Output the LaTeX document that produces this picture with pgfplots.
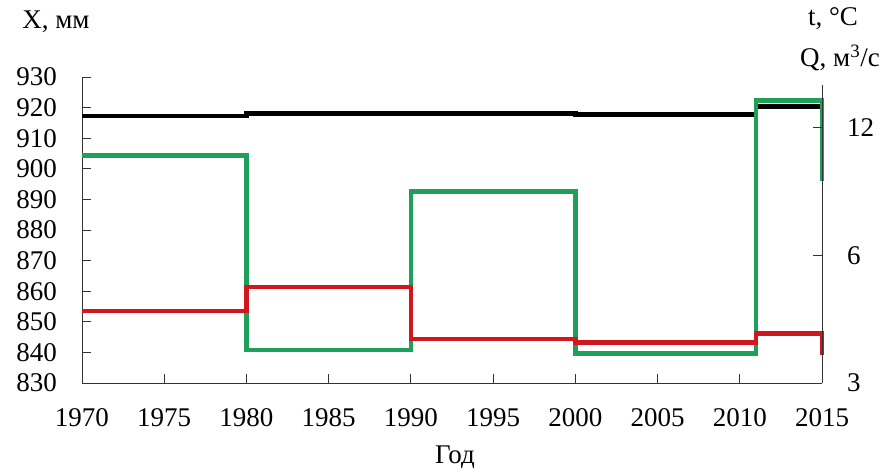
\documentclass[border=0pt]{standalone}
\usepackage{pgfplots}
\pgfplotsset{compat=1.18}
\usepackage{fontspec}
\setmainfont{Liberation Serif}
\definecolor{cgreen}{RGB}{30,160,90}
\definecolor{cred}{RGB}{210,22,30}
\begin{document}
\fontsize{27}{32}\selectfont
\begin{tikzpicture}
\path[use as bounding box] (-82pt,-92pt) rectangle (805pt,383pt);
\begin{axis}[
  scale only axis, width=740pt, height=306pt,
  xmin=1970, xmax=2015, ymin=830, ymax=930,
  axis x line*=bottom, axis y line*=left,
  axis line style={-, line width=0.9pt, black!80},
  xtick={1970,1975,...,2015}, ytick={830,840,...,930},
  major tick length=9pt,
  tick style={line width=0.9pt, black!80},
  x tick label style={/pgf/number format/1000 sep={}, yshift=-16pt},
  y tick label style={xshift=-16pt},
  /pgf/number format/assume math mode=true,
  clip=false,
]
\addplot[const plot, line width=4.5pt, black] coordinates {
 (1970,917.3) (1980,918.1) (2000,917.7) (2011,920.3) (2015,920.3)};
\addplot[const plot, line width=4.5pt, cgreen] coordinates {
 (1970,904.4) (1980,840.8) (1990,892.6) (2000,839.6) (2011,922.4) (2015,922.4) (2015,896)};
\addplot[const plot, line width=4.5pt, cred] coordinates {
 (1970,853.6) (1980,861.4) (1990,844.4) (2000,843.3) (2011,846.2) (2015,846.2) (2015,839)};
\end{axis}
\begin{axis}[
  scale only axis, width=740pt, height=298pt,
  xmin=1970, xmax=2015, ymode=log, ymin=3, ymax=15.15,
  axis x line=none, axis y line*=right,
  axis line style={-, line width=0.9pt, black!80},
  ytick={3,6,12}, yticklabels={3,6,12},
  major tick length=9pt, minor tick length=0pt,
  tick style={line width=0.9pt, black!80},
  y tick label style={xshift=16pt},
]
\addplot[draw=none] coordinates {(1970,5) (2015,5)};
\end{axis}
\node at (-26pt,361pt) {X, мм};
\node at (751pt,364pt) {t, °C};
\node at (758pt,325pt) {Q, м\textsuperscript{3}/с};
\node at (373pt,-74pt) {Год};
\end{tikzpicture}
\end{document}
